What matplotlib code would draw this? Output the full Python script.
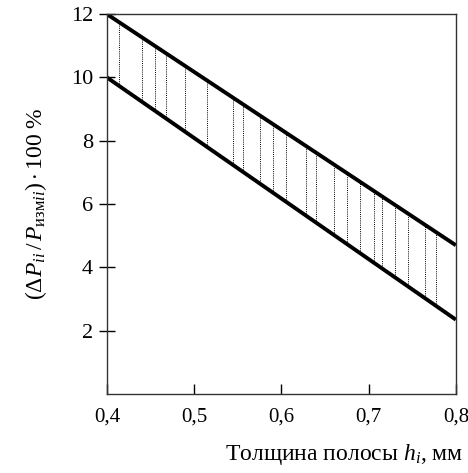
import numpy as np
import matplotlib
matplotlib.use('Agg')
import matplotlib.pyplot as plt

# данные: границы полосы разброса
h = [0.4, 0.8]
upper = [12.0, 4.7]
lower = [10.0, 2.35]
x_ticks = [0.4, 0.5, 0.6, 0.7, 0.8]
x_labels = ['0,4', '0,5', '0,6', '0,7', '0,8']
y_ticks = [2, 4, 6, 8, 10, 12]
# положения вертикальной штриховки
hatch_x = [0.414, 0.44, 0.455, 0.468, 0.49, 0.515, 0.545, 0.556, 0.575,
           0.59, 0.605, 0.628, 0.64, 0.66, 0.675, 0.69, 0.706, 0.715,
           0.73, 0.745, 0.765, 0.777]

plt.rcParams['font.family'] = ['Liberation Serif', 'DejaVu Serif']
plt.rcParams['mathtext.fontset'] = 'custom'
plt.rcParams['mathtext.rm'] = 'Liberation Serif'
plt.rcParams['mathtext.it'] = 'Liberation Serif:italic'

fig = plt.figure(figsize=(4.68, 4.73), dpi=100)
ax = fig.add_axes([0.2286, 0.167, 0.7454, 0.803])

# штриховка между линиями
hx = np.array(hatch_x)
lo = np.interp(hx, h, lower)
hi = np.interp(hx, h, upper)
ax.vlines(hx, lo, hi, colors='black', linestyles=(0, (1, 1.2)), linewidth=0.7)

ax.plot(h, upper, color='black', linewidth=2.8, solid_capstyle='butt')
ax.plot(h, lower, color='black', linewidth=2.8, solid_capstyle='butt')

ax.set_xlim(0.4, 0.8)
ax.set_ylim(0, 12)
ax.set_xticks(x_ticks)
ax.set_xticklabels(x_labels)
ax.set_yticks(y_ticks)
ax.tick_params(axis='y', direction='inout', length=12, width=1, labelsize=16, pad=4)
ax.tick_params(axis='x', direction='in', length=7, width=1, labelsize=15, pad=10)
for s in ax.spines.values():
    s.set_linewidth(1)
    s.set_color('#333333')

ax.set_ylabel(r'$(\Delta P_{ii}\,/\,P_{\mathrm{изм}ii})\cdot 100\ \%$', fontsize=17, labelpad=16)
fig.text(0.99, 0.012, r'Толщина полосы $h_i$, мм', ha='right', va='bottom', fontsize=17)

fig.savefig('out.png', dpi=100)
